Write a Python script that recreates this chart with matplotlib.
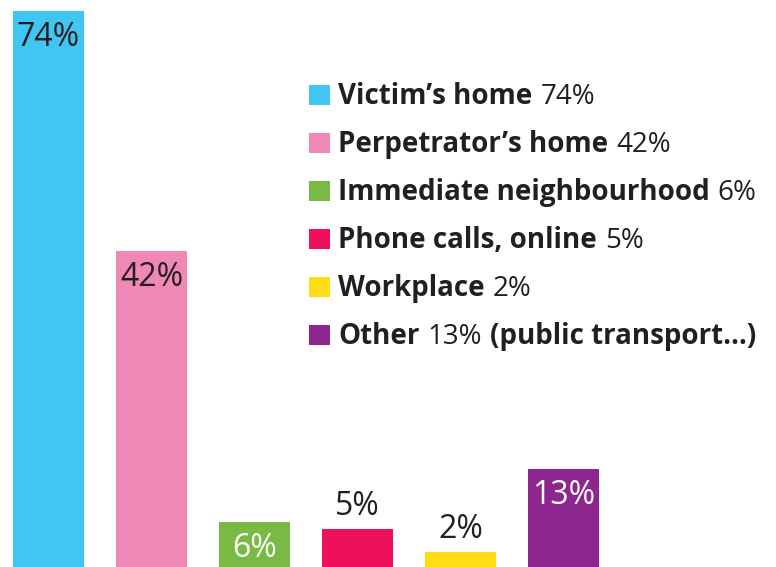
import matplotlib.pyplot as plt
from matplotlib.patches import Rectangle

plt.rcParams['font.family'] = ['Open Sans', 'DejaVu Sans']

categories = ["Victim’s home", "Perpetrator’s home", "Immediate neighbourhood",
              "Phone calls, online", "Workplace", "Other"]
values = [74, 42, 6, 5, 2, 13]
extra = ["", "", "", "", "", "(public transport…)"]
colors = ["#41C5F2", "#F088B6", "#78BA43", "#EE1159", "#FEDD15", "#8D278F"]
label_inside = [True, True, True, False, False, True]
label_color = ["#231F20", "#231F20", "white", "#231F20", "#231F20", "white"]

W, H = 776, 567
dark = "#231F20"

fig = plt.figure(figsize=(W / 100, H / 100), dpi=100)
ax = fig.add_axes([0, 0, 1, 1])
ax.axis("off")

# pixel mapping: bar 0 centered at x=48.5px, 103px between bars, 74% reaches y=11px
px_per_unit = 103
ax.set_xlim(-48.5 / px_per_unit, (W - 48.5) / px_per_unit)
ax.set_ylim(0, H / ((H - 11) / 74))

xs = range(len(values))
ax.bar(xs, values, width=0.69, color=colors)

for x, v, inside, c in zip(xs, values, label_inside, label_color):
    off = -35 * 0.72 if inside else 14 * 0.72
    ax.annotate(f"{v}%", xy=(x, v), xytext=(0, off), textcoords="offset points",
                ha="center", va="baseline", fontsize=23, color=c)

# legend drawn by hand (mixed bold / regular text)
fig.canvas.draw()
renderer = fig.canvas.get_renderer()
sq_x0, txt_x0 = 309, 338
base0, step = 104, 48
fs = 20
for i, (cat, v, ex, col) in enumerate(zip(categories, values, extra, colors)):
    base = base0 + i * step
    fig.add_artist(Rectangle((sq_x0 / W, 1 - (base + 1) / H), 21 / W, 20 / H,
                             transform=fig.transFigure, color=col, lw=0))
    parts = [(cat, "bold"), (f"{v}%", "normal")]
    if ex:
        parts.append((ex, "bold"))
    x = txt_x0
    for s, w in parts:
        t = fig.text(x / W, 1 - base / H, s, fontsize=fs, fontweight=w,
                     color=dark, va="baseline", ha="left")
        bb = t.get_window_extent(renderer=renderer)
        x = bb.x1 + 8

fig.savefig("out.png", dpi=100)
